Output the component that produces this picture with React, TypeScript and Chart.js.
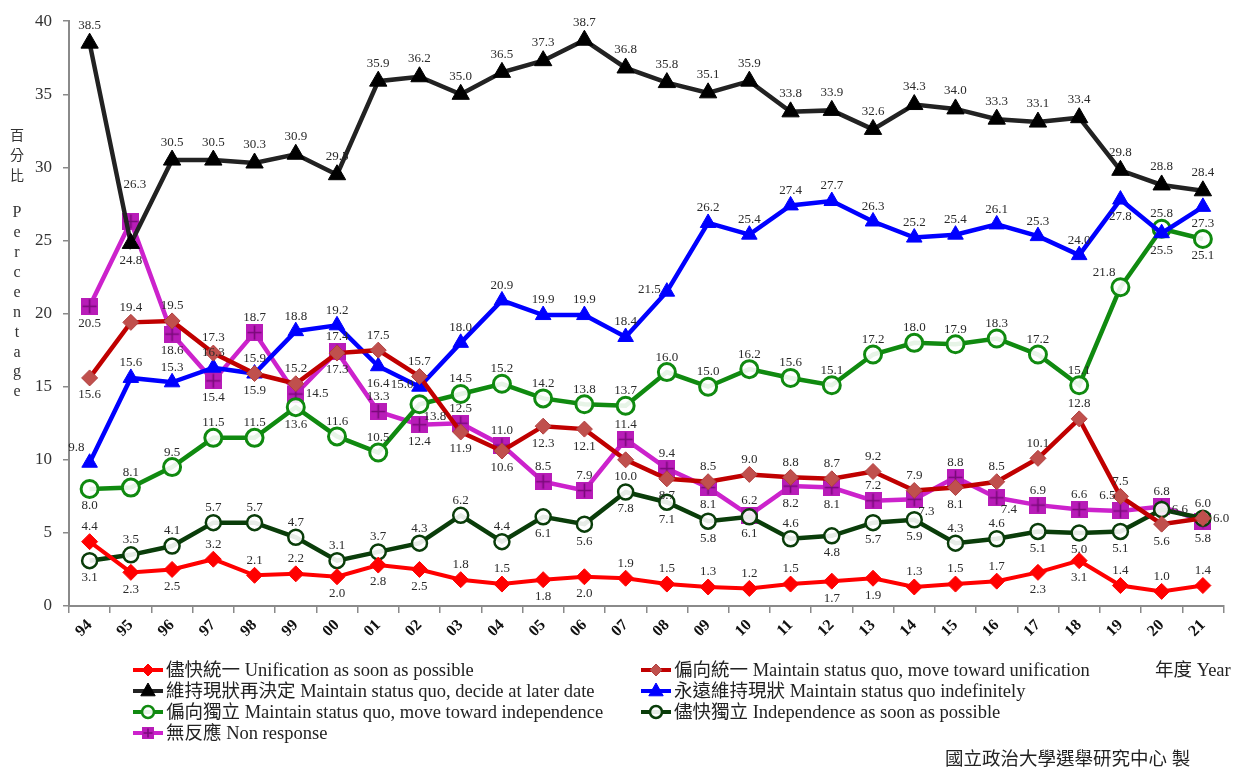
import React, { useEffect, useRef } from "react";
import { Chart, registerables } from "chart.js";

Chart.register(...registerables);

// ---------- data ----------
const years = ["94","95","96","97","98","99","00","01","02","03","04","05","06","07","08","09","10","11","12","13","14","15","16","17","18","19","20","21"];

const unificationSoon = [4.4,2.3,2.5,3.2,2.1,2.2,2.0,2.8,2.5,1.8,1.5,1.8,2.0,1.9,1.5,1.3,1.2,1.5,1.7,1.9,1.3,1.5,1.7,2.3,3.1,1.4,1.0,1.4];
const towardUnification = [15.6,19.4,19.5,17.3,15.9,15.2,17.3,17.5,15.7,11.9,10.6,12.3,12.1,10.0,8.7,8.5,9.0,8.8,8.7,9.2,7.9,8.1,8.5,10.1,12.8,7.5,5.6,6.0];
const decideLater = [38.5,24.8,30.5,30.5,30.3,30.9,29.5,35.9,36.2,35.0,36.5,37.3,38.7,36.8,35.8,35.1,35.9,33.8,33.9,32.6,34.3,34.0,33.3,33.1,33.4,29.8,28.8,28.4];
const indefinitely = [9.8,15.6,15.3,16.3,15.9,18.8,19.2,16.4,15.0,18.0,20.9,19.9,19.9,18.4,21.5,26.2,25.4,27.4,27.7,26.3,25.2,25.4,26.1,25.3,24.0,27.8,25.5,27.3];
const towardIndependence = [8.0,8.1,9.5,11.5,11.5,13.6,11.6,10.5,13.8,14.5,15.2,14.2,13.8,13.7,16.0,15.0,16.2,15.6,15.1,17.2,18.0,17.9,18.3,17.2,15.1,21.8,25.8,25.1];
const independenceSoon = [3.1,3.5,4.1,5.7,5.7,4.7,3.1,3.7,4.3,6.2,4.4,6.1,5.6,7.8,7.1,5.8,6.1,4.6,4.8,5.7,5.9,4.3,4.6,5.1,5.0,5.1,6.6,6.0];
const nonResponse = [20.5,26.3,18.6,15.4,18.7,14.5,17.4,13.3,12.4,12.5,11.0,8.5,7.9,11.4,9.4,8.1,6.2,8.2,8.1,7.2,7.3,8.8,7.4,6.9,6.6,6.5,6.8,5.8];

const seriesLabels = [
  "儘快統一 Unification as soon as possible",
  "偏向統一 Maintain status quo, move toward unification",
  "維持現狀再決定 Maintain status quo, decide at later date",
  "永遠維持現狀 Maintain status quo indefinitely",
  "偏向獨立 Maintain status quo, move toward independence",
  "儘快獨立 Independence as soon as possible",
  "無反應 Non response",
];

// value-label placement per point (a above, A far above, b below, l left, r right, L above-left, R below-right)
const unificationSoonLabelPos = "abbaaabbbaabbaaaaabbaaabbaaa";
const towardUnificationLabelPos = "baaababaabbbbbbaaaaaabaaaabr";
const decideLaterLabelPos = "abaaaaaaaaaaaaaaaaaaaaaaaaaa";
const indefinitelyLabelPos = "Laaaaaablaaaaalaaaaaaaaaabbb";
const towardIndependenceLabelPos = "baaaabaaRaaaaaaaaaaaaaaaaLab";
const independenceSoonLabelPos = "baaaaaaaaaabbbbbbabbbaabbbra";
const nonResponseLabelPos = "bAbbaraabaaaaaababbaRaRaaLab";

const SERIF = "'Liberation Serif', 'Times New Roman', 'Noto Sans CJK TC', serif";

function makeCrossSquare(size: number) {
  const c = document.createElement("canvas");
  c.width = size;
  c.height = size;
  const g = c.getContext("2d")!;
  g.fillStyle = "#b81cb8";
  g.fillRect(0, 0, size, size);
  g.strokeStyle = "#7a0a7a";
  g.lineWidth = 1.6;
  g.beginPath();
  g.moveTo(size / 2, 1.5);
  g.lineTo(size / 2, size - 1.5);
  g.moveTo(1.5, size / 2);
  g.lineTo(size - 1.5, size / 2);
  g.stroke();
  return c;
}

function drawMarker(ctx: CanvasRenderingContext2D, style: any, x: number, y: number, r: number, fill: string, stroke: string, bw: number) {
  ctx.save();
  if (style instanceof HTMLCanvasElement) {
    ctx.drawImage(style, x - style.width / 2, y - style.height / 2);
    ctx.restore();
    return;
  }
  ctx.beginPath();
  if (style === "rectRot") {
    ctx.moveTo(x, y - r);
    ctx.lineTo(x + r, y);
    ctx.lineTo(x, y + r);
    ctx.lineTo(x - r, y);
    ctx.closePath();
  } else if (style === "triangle") {
    ctx.moveTo(x, y - r);
    ctx.lineTo(x + r * 0.9, y + r * 0.6);
    ctx.lineTo(x - r * 0.9, y + r * 0.6);
    ctx.closePath();
  } else {
    ctx.arc(x, y, r, 0, Math.PI * 2);
  }
  ctx.fillStyle = fill;
  ctx.fill();
  ctx.lineWidth = bw;
  ctx.strokeStyle = stroke;
  ctx.stroke();
  ctx.restore();
}

export default function App() {
  const ref = useRef<HTMLCanvasElement | null>(null);

  useEffect(() => {
    if (!ref.current) return;
    const crossSquare = makeCrossSquare(17);

    const cfg = [
      { data: unificationSoon, pos: unificationSoonLabelPos, line: "#ff0000", fill: "#ff0000", stroke: "#ff0000", style: "rectRot", r: 8, bw: 1, lw: 4, col: 0, row: 0 },
      { data: towardUnification, pos: towardUnificationLabelPos, line: "#c00000", fill: "#c0504d", stroke: "#b04040", style: "rectRot", r: 8, bw: 1, lw: 4.5, col: 1, row: 0 },
      { data: decideLater, pos: decideLaterLabelPos, line: "#222222", fill: "#000000", stroke: "#000000", style: "triangle", r: 10, bw: 1, lw: 4.5, col: 0, row: 1 },
      { data: indefinitely, pos: indefinitelyLabelPos, line: "#0000ff", fill: "#0000ff", stroke: "#0000ff", style: "triangle", r: 9, bw: 1, lw: 4.5, col: 1, row: 1 },
      { data: towardIndependence, pos: towardIndependenceLabelPos, line: "#108a10", fill: "rgba(255,255,255,0.9)", stroke: "#108a10", style: "circle", r: 8.5, bw: 3, lw: 4.5, col: 0, row: 2 },
      { data: independenceSoon, pos: independenceSoonLabelPos, line: "#0a3d0a", fill: "rgba(255,255,255,0.9)", stroke: "#0a3d0a", style: "circle", r: 7.5, bw: 2.5, lw: 4.5, col: 1, row: 2 },
      { data: nonResponse, pos: nonResponseLabelPos, line: "#cc22cc", fill: "#b81cb8", stroke: "#b81cb8", style: crossSquare as any, r: 8, bw: 1, lw: 4.5, col: 0, row: 3 },
    ];

    const datasets = cfg.map((c, i) => ({
      label: seriesLabels[i],
      data: c.data,
      borderColor: c.line,
      borderWidth: c.lw,
      backgroundColor: c.fill,
      pointBackgroundColor: c.fill,
      pointBorderColor: c.stroke,
      pointBorderWidth: c.bw,
      pointStyle: c.style as any,
      pointRadius: c.r,
      tension: 0,
      fill: false,
    }));

    const valueLabels = {
      id: "valueLabels",
      afterDatasetsDraw(chart: any) {
        const ctx: CanvasRenderingContext2D = chart.ctx;
        ctx.save();
        ctx.font = `13px ${SERIF}`;
        ctx.fillStyle = "#2a2a2a";
        ctx.textBaseline = "middle";
        cfg.forEach((c, di) => {
          const meta = chart.getDatasetMeta(di);
          meta.data.forEach((pt: any, i: number) => {
            const txt = c.data[i].toFixed(1);
            const p = c.pos[i];
            const up = di === 2 ? -18 : -15;
            let x = pt.x, y = pt.y, align: CanvasTextAlign = "center";
            if (p === "a") { y += up; }
            else if (p === "A") { y -= 37; x += 4; }
            else if (p === "b") { y += 17; }
            else if (p === "l") { x -= 6; align = "right"; y -= 2; }
            else if (p === "r") { x += 10; align = "left"; }
            else if (p === "L") { x -= 5; align = "right"; y -= 15; }
            else if (p === "R") { x += 4; align = "left"; y += 12; }
            ctx.textAlign = align;
            ctx.fillText(txt, x, y);
          });
        });
        ctx.restore();
      },
    };

    const decorations = {
      id: "decorations",
      afterDraw(chart: any) {
        const ctx: CanvasRenderingContext2D = chart.ctx;
        ctx.save();
        // axis title (vertical)
        ctx.fillStyle = "#333";
        ctx.textAlign = "center";
        ctx.textBaseline = "middle";
        ctx.font = `14px 'Noto Sans CJK TC', sans-serif`;
        ["百", "分", "比"].forEach((ch, i) => ctx.fillText(ch, 17, 135 + i * 20));
        ctx.font = `16px ${SERIF}`;
        "Percentage".split("").forEach((ch, i) => ctx.fillText(ch, 17, 213 + i * 19.9));

        // legend
        ctx.textAlign = "left";
        ctx.font = `18.5px ${SERIF}`;
        const rowY = [670, 691, 712, 733];
        const colX = [133, 641];
        cfg.forEach((c, i) => {
          const x0 = colX[c.col];
          const y = rowY[c.row];
          ctx.strokeStyle = c.line;
          ctx.lineWidth = 4;
          ctx.beginPath();
          ctx.moveTo(x0, y);
          ctx.lineTo(x0 + 30, y);
          ctx.stroke();
          const mr = c.style === "triangle" ? 8 : 6;
          const img = c.style instanceof HTMLCanvasElement ? makeCrossSquare(12) : c.style;
          drawMarker(ctx, img, x0 + 15, y, mr, c.fill, c.stroke, c.style === "circle" ? 2.5 : 1);
          ctx.fillStyle = "#222";
          ctx.fillText(seriesLabels[i], x0 + 33, y + 1);
        });
        ctx.fillText("年度 Year", 1155, rowY[0] + 1);
        ctx.fillText("國立政治大學選舉研究中心 製", 945, 760);
        ctx.restore();
      },
    };

    const chart = new Chart(ref.current, {
      type: "line",
      data: { labels: years, datasets: datasets as any },
      options: {
        responsive: true,
        maintainAspectRatio: false,
        animation: false,
        layout: { padding: { left: 0, right: 3, top: 21, bottom: 120 } },
        plugins: {
          legend: { display: false },
          tooltip: { enabled: false },
          title: { display: false },
        },
        scales: {
          x: {
            type: "category",
            offset: true,
            grid: { display: true, drawOnChartArea: false, drawTicks: true, tickLength: 7, color: "#8a8a8a", lineWidth: 1.5, offset: true },
            border: { display: true, color: "#8a8a8a", width: 2 },
            ticks: {
              autoSkip: false,
              minRotation: 45,
              maxRotation: 45,
              padding: 3,
              color: "#111",
              font: { family: SERIF, size: 16, weight: "bold" },
            },
            afterFit: (s: any) => { s.height = 43; },
          },
          y: {
            min: 0,
            max: 40,
            ticks: { stepSize: 5, padding: 11, color: "#333", font: { family: SERIF, size: 17 } },
            grid: { display: true, drawOnChartArea: false, drawTicks: true, tickLength: 6, color: "#8a8a8a", lineWidth: 1.5 },
            border: { display: true, color: "#8a8a8a", width: 2 },
            afterFit: (s: any) => { s.width = 69; },
          },
        },
      } as any,
      plugins: [valueLabels, decorations],
    });

    return () => chart.destroy();
  }, []);

  return (
    <div style={{ position: "fixed", left: 0, top: 0, width: 1235, height: 769, background: "#fff" }}>
      <canvas ref={ref} />
    </div>
  );
}
